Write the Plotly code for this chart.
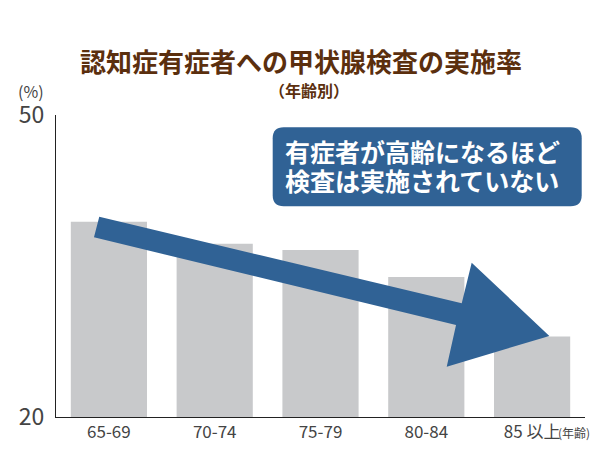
import plotly.graph_objects as go

# ---- data ----
categories = ["65-69", "70-74", "75-79", "80-84", "85 以上"]
rates = [39.4, 37.2, 36.6, 33.9, 28.0]
y_ticks = [20, 50]

# decorative arrow outline (x in category-index units, y in %)
arrow_x = [-0.091, 3.335, 3.429, 4.163, 3.193, 3.281, -0.141]
arrow_y = [39.90, 31.29, 35.33, 28.05, 25.00, 29.14, 37.85]

FONT = "Noto Sans CJK JP"
BAR = "#c8c9cb"
BLUE = "#306295"
BROWN = "#5b2f0e"
GREY = "#444444"

xs = list(range(len(categories)))

fig = go.Figure()
fig.add_trace(go.Bar(x=xs, y=rates, marker=dict(color=BAR, line=dict(width=0)),
                     hoverinfo="skip"))

# arrow path
p = "M " + " L ".join(f"{x},{y}" for x, y in zip(arrow_x, arrow_y)) + " Z"
fig.add_shape(type="path", path=p, xref="x", yref="y", fillcolor=BLUE,
              line=dict(width=0), layer="above")

# rounded callout box (pixel-sized, anchored at top-left)
W, H, R = 309, 79, 11
box = (f"M {R},0 L {W-R},0 Q {W},0 {W},{-R} L {W},{-(H-R)} Q {W},{-H} {W-R},{-H} "
       f"L {R},{-H} Q 0,{-H} 0,{-(H-R)} L 0,{-R} Q 0,0 {R},0 Z")
fig.add_shape(type="path", path=box, xref="paper", yref="paper",
              xsizemode="pixel", ysizemode="pixel",
              xanchor=(272.7 - 56) / 529, yanchor=(417 - 127.3) / 302,
              fillcolor=BLUE, line=dict(width=0), layer="above")

fig.add_annotation(text="<b>有症者が高齢になるほど</b>", xref="paper", yref="paper",
                   x=(283 - 56) / 529, y=(417 - 151) / 302, xanchor="left", yanchor="middle",
                   showarrow=False, font=dict(family=FONT, size=25, color="white"))
fig.add_annotation(text="<b>検査は実施されていない</b>", xref="paper", yref="paper",
                   x=(283 - 56) / 529, y=(417 - 180) / 302, xanchor="left", yanchor="middle",
                   showarrow=False, font=dict(family=FONT, size=25, color="white"))

# titles
fig.add_annotation(text="<b>認知症有症者への甲状腺検査の実施率</b>", xref="paper", yref="paper",
                   x=(301 - 56) / 529, y=(417 - 61) / 302, xanchor="center", yanchor="middle",
                   showarrow=False, font=dict(family=FONT, size=26, color=BROWN))
fig.add_annotation(text="<b>（年齢別）</b>", xref="paper", yref="paper",
                   x=(309 - 56) / 529, y=(417 - 90) / 302, xanchor="center", yanchor="middle",
                   showarrow=False, font=dict(family=FONT, size=16, color=BROWN))
fig.add_annotation(text="(%)", xref="paper", yref="paper",
                   x=(31 - 56) / 529, y=(417 - 91) / 302, xanchor="center", yanchor="middle",
                   showarrow=False, font=dict(family=FONT, size=16, color=GREY))
fig.add_annotation(text="(年齢)", xref="paper", yref="paper",
                   x=(556 - 56) / 529, y=(417 - 432) / 302, xanchor="left", yanchor="middle",
                   showarrow=False, font=dict(family=FONT, size=12, color=GREY))

fig.update_layout(
    width=600, height=450,
    margin=dict(l=56, r=15, t=115, b=33),
    paper_bgcolor="white", plot_bgcolor="white",
    showlegend=False, bargap=0.28,
    font=dict(family=FONT, color=GREY),
)
fig.update_xaxes(range=[-0.5, 4.5], tickvals=xs, ticktext=categories, automargin=False,
                 showline=True, linecolor="#222", linewidth=1, showgrid=False,
                 ticks="", tickfont=dict(family=FONT, size=17, color=GREY), zeroline=False)
fig.update_yaxes(range=[20, 50], tickvals=y_ticks, showline=True, linecolor="#222",
                 linewidth=1, showgrid=False, ticks="", zeroline=False, automargin=False,
                 tickfont=dict(family=FONT, size=23, color=GREY), ticklabelstandoff=6)

fig.write_html("out.html", config={"displayModeBar": False},
               post_script="document.body.style.margin='0';")
